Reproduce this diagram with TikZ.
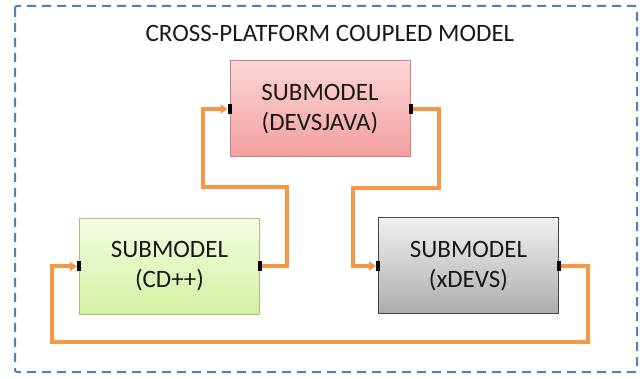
\documentclass[tikz,border=0pt]{standalone}
\usepackage{fontspec}
\setmainfont{Carlito}
\usetikzlibrary{arrows.meta}
\definecolor{orng}{HTML}{F79646}
\definecolor{dashblue}{HTML}{4F81BD}
\definecolor{pinktop}{RGB}{252,214,214}
\definecolor{pinkbot}{RGB}{242,158,158}
\definecolor{pinkdraw}{RGB}{200,130,130}
\definecolor{greentop}{RGB}{244,252,226}
\definecolor{greenbot}{RGB}{212,240,160}
\definecolor{greendraw}{RGB}{170,190,140}
\definecolor{graytop}{RGB}{240,240,240}
\definecolor{graybot}{RGB}{172,172,172}
\definecolor{graydraw}{RGB}{70,70,70}
\begin{document}
\begin{tikzpicture}[x=1pt,y=-1pt,
  lbl/.style={font=\fontsize{25}{30}\selectfont, text=black!90},
  subbox/.style={lbl, draw, line width=1pt, minimum width=180pt, minimum height=96pt, inner sep=0pt, align=center},
  portbox/.style={fill=black, minimum width=4pt, minimum height=10pt, inner sep=0pt, outer sep=0pt},
  conn/.style={draw=orng, line width=4pt, -{Triangle[length=7pt,width=9pt]}},
  frame/.style={draw=dashblue, line width=2pt, dash pattern=on 9pt off 6pt, rounded corners=2pt}
]
\useasboundingbox (0,0) rectangle (640,379);
\draw[frame] (15,6) rectangle (637,372);
\node[lbl] (title) at (330,33) {CROSS-PLATFORM COUPLED MODEL};

\node[subbox, draw=pinkdraw, top color=pinktop, bottom color=pinkbot] (java) at (320,109) {SUBMODEL\\(DEVSJAVA)};
\node[subbox, draw=greendraw, top color=greentop, bottom color=greenbot] (cd) at (169.5,266.5) {SUBMODEL\\(CD++)};
\node[subbox, draw=graydraw, top color=graytop, bottom color=graybot] (xd) at (468.5,266) {SUBMODEL\\(xDEVS)};

\node[portbox] (javain) at (java.west) {};
\node[portbox] (javaout) at (java.east) {};
\node[portbox] (cdin) at (cd.west) {};
\node[portbox] (cdout) at (cd.east) {};
\node[portbox] (xin) at (xd.west) {};
\node[portbox] (xout) at (xd.east) {};

\draw[conn] (cdout.east) -- ++(25,0) -- ++(0,-79.5) -- ++(-84,0) |- (javain.west);
\draw[conn] (javaout.east) -- ++(26,0) -- ++(0,79) -- ++(-86,0) |- (xin.west);
\draw[conn] (xout.east) -- ++(27,0) -- ++(0,76) -- ++(-536,0) |- (cdin.west);
\end{tikzpicture}
\end{document}
